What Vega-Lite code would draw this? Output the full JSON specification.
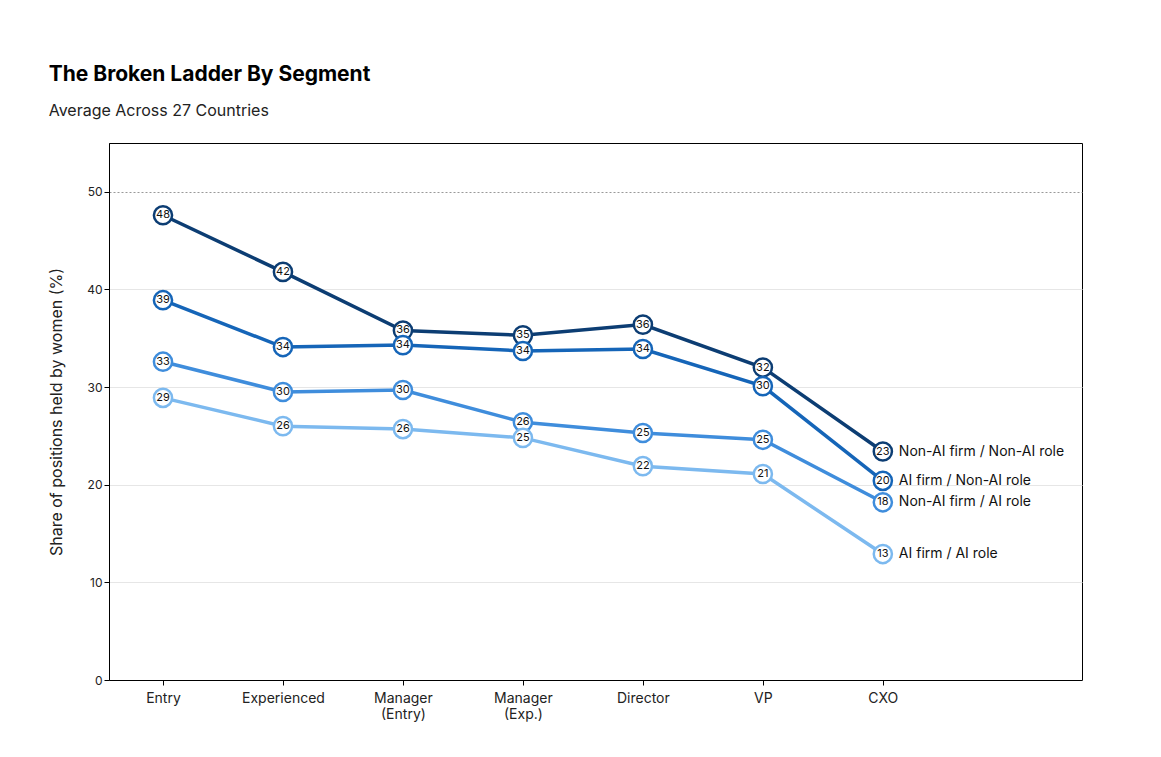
{
  "$schema": "https://vega.github.io/schema/vega-lite/v6.json",
  "width": 973,
  "height": 537,
  "padding": {"left": 48, "top": 64, "right": 74, "bottom": 20},
  "background": "white",
  "title": {
    "text": "The Broken Ladder By Segment",
    "subtitle": "Average Across 27 Countries",
    "anchor": "start",
    "frame": "bounds",
    "offset": 24,
    "dx": 0,
    "font": "Inter",
    "fontSize": 21,
    "fontWeight": "bold",
    "color": "#000",
    "subtitleFont": "Inter",
    "subtitleFontSize": 16,
    "subtitleColor": "#222",
    "subtitlePadding": 18
  },
  "data": {
    "values": [
      {"s": "Non-AI firm / Non-AI role", "i": 0, "v": 47.6}, {"s": "Non-AI firm / Non-AI role", "i": 1, "v": 41.8}, {"s": "Non-AI firm / Non-AI role", "i": 2, "v": 35.8}, {"s": "Non-AI firm / Non-AI role", "i": 3, "v": 35.3}, {"s": "Non-AI firm / Non-AI role", "i": 4, "v": 36.4}, {"s": "Non-AI firm / Non-AI role", "i": 5, "v": 32.0}, {"s": "Non-AI firm / Non-AI role", "i": 6, "v": 23.4},
      {"s": "AI firm / Non-AI role", "i": 0, "v": 38.9}, {"s": "AI firm / Non-AI role", "i": 1, "v": 34.1}, {"s": "AI firm / Non-AI role", "i": 2, "v": 34.3}, {"s": "AI firm / Non-AI role", "i": 3, "v": 33.7}, {"s": "AI firm / Non-AI role", "i": 4, "v": 33.9}, {"s": "AI firm / Non-AI role", "i": 5, "v": 30.1}, {"s": "AI firm / Non-AI role", "i": 6, "v": 20.4},
      {"s": "Non-AI firm / AI role", "i": 0, "v": 32.6}, {"s": "Non-AI firm / AI role", "i": 1, "v": 29.5}, {"s": "Non-AI firm / AI role", "i": 2, "v": 29.7}, {"s": "Non-AI firm / AI role", "i": 3, "v": 26.4}, {"s": "Non-AI firm / AI role", "i": 4, "v": 25.3}, {"s": "Non-AI firm / AI role", "i": 5, "v": 24.6}, {"s": "Non-AI firm / AI role", "i": 6, "v": 18.2},
      {"s": "AI firm / AI role", "i": 0, "v": 28.9}, {"s": "AI firm / AI role", "i": 1, "v": 26.0}, {"s": "AI firm / AI role", "i": 2, "v": 25.7}, {"s": "AI firm / AI role", "i": 3, "v": 24.8}, {"s": "AI firm / AI role", "i": 4, "v": 21.9}, {"s": "AI firm / AI role", "i": 5, "v": 21.1}, {"s": "AI firm / AI role", "i": 6, "v": 12.9}
    ]
  },
  "encoding": {
    "x": {
      "field": "i", "type": "quantitative",
      "scale": {"domain": [-0.45, 7.66], "nice": false, "zero": false},
      "axis": {
        "values": [0, 1, 2, 3, 4, 5, 6], "grid": false, "title": null,
        "labelExpr": "split(['Entry','Experienced','Manager\\n(Entry)','Manager\\n(Exp.)','Director','VP','CXO'][datum.value], '\\n')",
        "labelFont": "Inter", "labelFontSize": 14, "labelColor": "#222", "labelPadding": 6,
        "tickColor": "#000", "domainColor": "#000"
      }
    },
    "y": {
      "field": "v", "type": "quantitative",
      "scale": {"domain": [0, 55], "nice": false},
      "axis": {
        "values": [0, 10, 20, 30, 40, 50], "title": "Share of positions held by women (%)",
        "titleFont": "Inter", "titleFontSize": 16, "titleFontWeight": "normal", "titleColor": "#222", "titlePadding": 22,
        "labelFont": "Inter", "labelFontSize": 12, "labelColor": "#222",
        "gridColor": {"condition": {"test": "datum.value == 50", "value": "#999"}, "value": "#e6e6e6"},
        "gridDash": {"condition": {"test": "datum.value == 50", "value": [2, 2]}, "value": []},
        "tickColor": "#000", "domainColor": "#000"
      }
    },
    "color": {
      "field": "s", "type": "nominal", "legend": null,
      "scale": {
        "domain": ["Non-AI firm / Non-AI role", "AI firm / Non-AI role", "Non-AI firm / AI role", "AI firm / AI role"],
        "range": ["#0c3d73", "#1565b8", "#3f8ddc", "#7cb9ef"]
      }
    }
  },
  "layer": [
    {"mark": {"type": "line", "strokeWidth": 3.5}},
    {"mark": {"type": "point", "shape": "circle", "filled": false, "fill": "white", "fillOpacity": 1, "strokeWidth": 2.5, "size": 330, "opacity": 1}},
    {"mark": {"type": "text", "font": "Inter", "fontSize": 11, "color": "#111"}, "encoding": {"text": {"field": "v", "format": ".0f"}, "color": {"value": "#111"}}},
    {"transform": [{"filter": "datum.i == 6"}], "mark": {"type": "text", "align": "left", "dx": 16, "font": "Inter", "fontSize": 14, "color": "#111"}, "encoding": {"text": {"field": "s"}, "color": {"value": "#111"}}}
  ],
  "config": {"view": {"stroke": "#000", "strokeWidth": 1}}
}
